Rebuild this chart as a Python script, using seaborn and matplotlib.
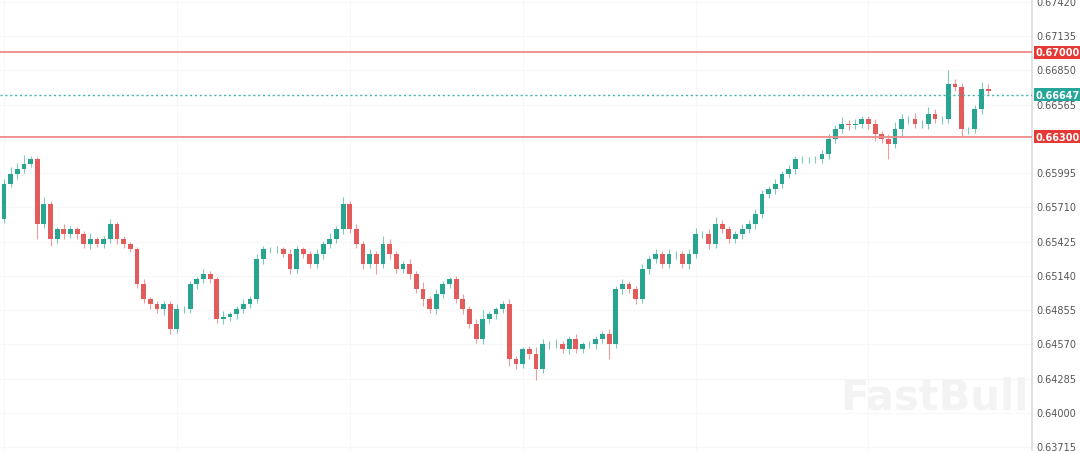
import numpy as np
import matplotlib
matplotlib.use("Agg")
import matplotlib.pyplot as plt
import seaborn as sns

first_open = 0.65612
closes = [0.65904,0.65987,0.66029,0.66070,0.66112,0.65571,0.65737,0.65446,0.65529,0.65487,
0.65529,0.65487,0.65404,0.65446,0.65404,0.65446,0.65571,0.65446,0.65404,0.65362,
0.65071,0.64946,0.64904,0.64863,0.64904,0.64696,0.64863,0.64863,0.65071,0.65112,
0.65154,0.65112,0.64779,0.64796,0.64821,0.64863,0.64904,0.64946,0.65279,0.65362,
0.65362,0.65362,0.65321,0.65196,0.65362,0.65321,0.65237,0.65321,0.65404,0.65446,
0.65529,0.65737,0.65529,0.65404,0.65237,0.65321,0.65237,0.65404,0.65321,0.65196,
0.65237,0.65154,0.65029,0.64946,0.64863,0.64988,0.65071,0.65112,0.64946,0.64863,
0.64738,0.64613,0.64779,0.64821,0.64863,0.64904,0.64446,0.64404,0.64529,0.64488,
0.64363,0.64571,0.64571,0.64571,0.64529,0.64613,0.64529,0.64571,0.64571,0.64613,
0.64654,0.64571,0.65029,0.65071,0.65029,0.64946,0.65196,0.65279,0.65321,0.65237,
0.65321,0.65321,0.65237,0.65321,0.65487,0.65487,0.65404,0.65571,0.65529,0.65446,
0.65487,0.65529,0.65571,0.65654,0.65821,0.65862,0.65904,0.65987,0.66029,0.66112,
0.66112,0.66112,0.66112,0.66154,0.66279,0.66362,0.66404,0.66395,0.66404,0.66445,
0.66404,0.66320,0.66279,0.66237,0.66362,0.66445,0.66445,0.66404,0.66404,0.66487,
0.66445,0.66445,0.66737,0.66712,0.66362,0.66362,0.66529,0.66695,0.66679]
wick_up = [40,60,50,80,30,20,60,30,20,40, 30,20,30,50,20,30,40,20,30,20,
20,40,20,30,30,30,40,30,30,20, 40,30,20,50,20,30,40,30,40,30,
20,30,20,40,30,20,30,40,30,50, 30,60,30,40,30,40,30,70,40,30,
30,40,30,60,30,40,30,20,30,40, 30,40,80,30,20,30,40,30,20,30,
60,40,30,40,30,30,40,20,30,30, 30,40,30,40,30,30,40,30,40,30,
40,30,30,40,50,30,40,60,30,30, 30,40,30,40,30,30,40,30,30,30,
30,20,30,30,40,30,60,30,40,30, 30,40,30,40,60,40,30,50,30,60,
40,30,120,40,30,20,30,60,40]
wick_dn = [30,20,40,30,20,120,30,60,30,40, 30,40,30,40,20,30,30,40,30,20,
30,30,40,30,50,40,30,30,30,40, 30,30,30,40,30,40,30,30,30,40,
30,30,20,40,30,30,30,30,40,30, 30,40,30,30,40,30,80,30,40,30,
30,40,30,60,30,40,30,30,30,40, 30,30,40,30,40,30,60,40,30,40,
90,30,40,30,30,40,30,30,30,40, 30,120,30,40,30,40,30,40,30,30,
30,40,30,40,30,30,40,30,30,30, 30,40,30,40,30,30,40,30,30,40,
30,30,30,30,40,30,30,40,30,30, 40,60,30,120,30,60,40,30,30,40,
30,40,30,30,60,40,30,40,30]
levels = [0.67000, 0.66300]
last_price = 0.66647
tick_vals = [0.67420,0.67135,0.66850,0.66565,0.65995,0.65710,0.65425,0.65140,
             0.64855,0.64570,0.64285,0.64000,0.63715]

sns.set_theme(style="white")
plt.rcParams['font.family'] = ['DejaVu Sans']

closes = np.array(closes)
opens = np.concatenate([[first_open], closes[:-1]])
highs = np.maximum(opens, closes) + np.array(wick_up) * 1e-5
lows = np.minimum(opens, closes) - np.array(wick_dn) * 1e-5
n = len(closes)
x = np.arange(n)

GREEN = "#27a590"
RED = "#e25c5c"
fig = plt.figure(figsize=(10.8, 4.52), dpi=100)
ax = fig.add_axes([0, 0, 1032/1080, 1])
ax.set_xlim(-0.6, (n - 1) * 1032 / 988)
ax.set_ylim(0.63682, 0.67445)

for t in tick_vals + [0.66280]:
    ax.axhline(t, color="#f7f7f7", lw=0.8, zorder=0)
for xv in np.arange(0, n * 1.1, 26):
    ax.axvline(xv, color="#f7f7f7", lw=0.8, zorder=0)

up = closes >= opens
cols = np.where(up, GREEN, RED)
ax.vlines(x, lows, highs, colors=cols, lw=0.8, alpha=0.6, zorder=2)
body = np.abs(closes - opens)
body = np.maximum(body, 1.2e-5)
ax.bar(x, body, bottom=np.minimum(opens, closes), width=0.72, color=cols, zorder=3, linewidth=0)

for lv in levels:
    ax.axhline(lv, color="#ef8a8a", lw=1.3, zorder=4)
ax.axhline(last_price, color="#3fb5a5", lw=1.0, ls=(0, (1.5, 2)), zorder=4)

ax.set_xticks([])
ax.set_yticks([])
for s in ["top", "left", "bottom"]:
    ax.spines[s].set_visible(False)
ax.spines["right"].set_color("#dddddd")

for t in tick_vals:
    ax.annotate(f"{t:.5f}", xy=(1, t), xycoords=("axes fraction", "data"),
                xytext=(3, 0), textcoords="offset points", va="center", ha="left",
                fontsize=7, color="#555555")
for lv, c in [(0.67000, "#e53935"), (0.66300, "#e53935"), (last_price, "#26a69a")]:
    ax.annotate(f"{lv:.5f}", xy=(1, lv), xycoords=("axes fraction", "data"),
                xytext=(2.5, 0), textcoords="offset points", va="center", ha="left",
                fontsize=7, color="white", fontweight="bold",
                bbox=dict(boxstyle="square,pad=0.15", fc=c, ec="none"))

fig.text(0.865, 0.12, "FastBull", fontsize=30, fontweight="bold", color="#f3f3f3",
         ha="center", va="center", zorder=0)
fig.savefig("out.png", dpi=100)
